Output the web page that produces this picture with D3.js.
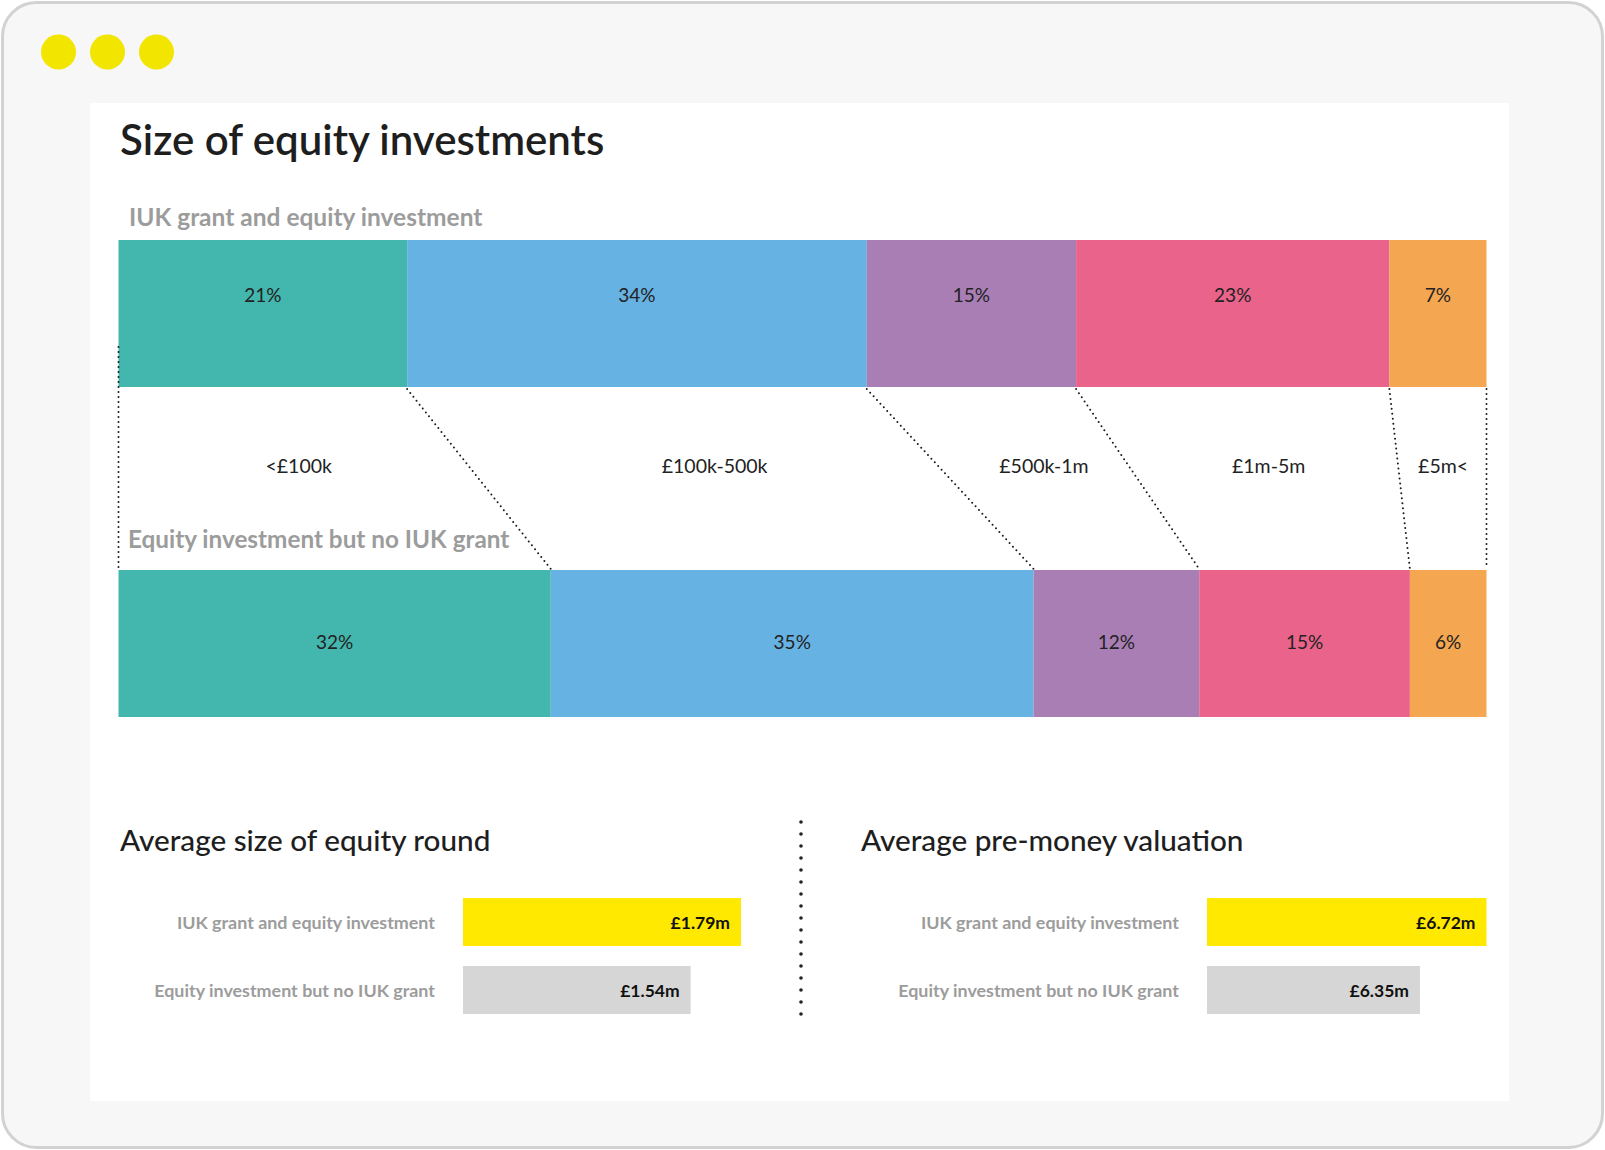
<!DOCTYPE html>
<html>
<head>
<meta charset="utf-8">
<script src="https://cdn.jsdelivr.net/npm/d3@7"></script>
<style>
  html, body { margin: 0; padding: 0; background: #ffffff; }
  svg { display: block; font-family: Lato, "Open Sans", sans-serif; }
</style>
</head>
<body>
<svg id="chart" width="1605" height="1150"></svg>
<script>
// ---------- data ----------
const categories = ["<£100k", "£100k-500k", "£500k-1m", "£1m-5m", "£5m<"];
const seriesNames = ["IUK grant and equity investment", "Equity investment but no IUK grant"];
// shares (%); labels show them rounded
const iukShares = [21.1, 33.6, 15.3, 22.9, 7.1];
const noGrantShares = [31.6, 35.3, 12.1, 15.4, 5.6];
const segmentColors = ["#43b7ad", "#66b2e2", "#a97eb5", "#e9638a", "#f4a651"];

const roundValues = [1.79, 1.54];
const roundLabels = ["£1.79m", "£1.54m"];
const valuationValues = [6.72, 6.35];
const valuationLabels = ["£6.72m", "£6.35m"];
const roundDomain = [0.41, 1.79];
const valuationDomain = [5.165, 6.72];
const pairColors = ["#ffe900", "#d6d6d6"];

// ---------- frame ----------
const svg = d3.select("#chart");
svg.append("rect").attr("x", 2.5).attr("y", 2.5).attr("width", 1600).attr("height", 1145)
  .attr("rx", 34).attr("fill", "#f7f7f7").attr("stroke", "#d2d2d2").attr("stroke-width", 3);
svg.selectAll("circle.win").data([0, 1, 2]).join("circle").attr("class", "win")
  .attr("cx", d => 58.5 + d * 49).attr("cy", 52).attr("r", 17.5).attr("fill", "#f2e500");
svg.append("rect").attr("x", 90).attr("y", 103).attr("width", 1419).attr("height", 998).attr("fill", "#ffffff");

svg.append("text").attr("x", 120).attr("y", 155).text("Size of equity investments")
  .attr("font-size", 42).attr("font-weight", 600).attr("fill", "#1e1e1e");

// ---------- stacked bars ----------
const x = d3.scaleLinear().domain([0, 100]).range([118.5, 1486.5]);
const topY = 240, botY = 570, barH = 147;
const pct = d3.format(".0f");

function stackOf(vals) {
  let c = 0;
  return vals.map((v, i) => { const s = { i, v, x0: c, x1: c + v }; c += v; return s; });
}
const topStack = stackOf(iukShares);
const botStack = stackOf(noGrantShares);

svg.append("text").attr("x", 129).attr("y", 226).text(seriesNames[0])
  .attr("font-size", 24.5).attr("font-weight", 700).attr("fill", "#9c9c9c");
svg.append("text").attr("x", 128).attr("y", 548).text(seriesNames[1])
  .attr("font-size", 24.3).attr("font-weight", 700).attr("fill", "#9c9c9c");

function drawBar(stack, y0, labelY) {
  const g = svg.append("g");
  g.selectAll("rect").data(stack).join("rect")
    .attr("x", d => x(d.x0)).attr("y", y0)
    .attr("width", d => x(d.x1) - x(d.x0)).attr("height", barH)
    .attr("fill", d => segmentColors[d.i]);
  g.selectAll("text").data(stack).join("text")
    .attr("x", d => (x(d.x0) + x(d.x1)) / 2).attr("y", labelY)
    .attr("text-anchor", "middle").attr("font-size", 19).attr("fill", "#222")
    .text(d => pct(d.v) + "%");
}
drawBar(topStack, topY, 302);
drawBar(botStack, botY, 649);

// connectors
const bounds = d3.range(categories.length + 1).map(k => ({
  t: k === 0 ? 0 : topStack[k - 1].x1,
  b: k === 0 ? 0 : botStack[k - 1].x1,
  k
}));
svg.append("g").selectAll("line").data(bounds).join("line")
  .attr("x1", d => x(d.t)).attr("y1", d => d.k === 0 ? topY + barH - 40 : topY + barH + 2)
  .attr("x2", d => x(d.b)).attr("y2", botY - 1)
  .attr("stroke", "#1a1a1a").attr("stroke-width", 2)
  .attr("stroke-linecap", "round").attr("stroke-dasharray", "0,5");

// category labels
svg.append("g").selectAll("text").data(categories).join("text")
  .attr("x", (d, i) => (x(bounds[i].t) + x(bounds[i].b) + x(bounds[i + 1].t) + x(bounds[i + 1].b)) / 4)
  .attr("y", 473).attr("text-anchor", "middle").attr("font-size", 19.5).attr("fill", "#222")
  .text(d => d);

// ---------- bottom panels ----------
svg.append("line").attr("x1", 801).attr("x2", 801).attr("y1", 822).attr("y2", 1017)
  .attr("stroke", "#222").attr("stroke-width", 3.6).attr("stroke-linecap", "round")
  .attr("stroke-dasharray", "0,12");

function panel(title, tx, barX, domain, width, values, labels) {
  const s = d3.scaleLinear().domain(domain).range([0, width]);
  const g = svg.append("g");
  g.append("text").attr("x", tx).attr("y", 851).text(title)
    .attr("font-size", 29.7).attr("font-weight", 500).attr("fill", "#1e1e1e");
  const rows = values.map((v, i) => ({ v, i }));
  const yRow = i => 898 + i * 68;
  g.selectAll("rect").data(rows).join("rect")
    .attr("x", barX).attr("y", d => yRow(d.i)).attr("height", 48)
    .attr("width", d => s(d.v)).attr("fill", d => pairColors[d.i]);
  g.selectAll("text.cat").data(rows).join("text").attr("class", "cat")
    .attr("x", barX - 28).attr("y", d => yRow(d.i) + 31).attr("text-anchor", "end")
    .attr("font-size", 17.9).attr("font-weight", 700).attr("fill", "#9c9c9c")
    .text(d => seriesNames[d.i]);
  g.selectAll("text.val").data(rows).join("text").attr("class", "val")
    .attr("x", d => barX + s(d.v) - 11).attr("y", d => yRow(d.i) + 31).attr("text-anchor", "end")
    .attr("font-size", 17.5).attr("font-weight", 700).attr("fill", "#111")
    .text(d => labels[d.i]);
}
panel("Average size of equity round", 120, 463, roundDomain, 278, roundValues, roundLabels);
panel("Average pre-money valuation", 861, 1207, valuationDomain, 279.5, valuationValues, valuationLabels);
</script>
</body>
</html>
